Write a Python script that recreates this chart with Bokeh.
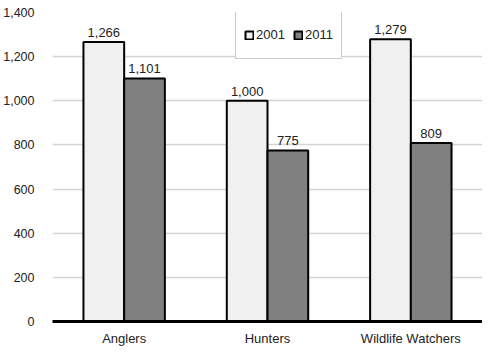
from bokeh.plotting import figure
from bokeh.models import ColumnDataSource, FactorRange, Range1d, NumeralTickFormatter, LabelSet, Legend, LegendItem, FixedTicker
from bokeh.transform import dodge
from bokeh.core.properties import value
from bokeh.embed import file_html
from bokeh.resources import INLINE

categories = ["Anglers", "Hunters", "Wildlife Watchers"]
series_names = ["2001", "2011"]
values_2001 = [1266, 1000, 1279]
values_2011 = [1101, 775, 809]
y_ticks = [0, 200, 400, 600, 800, 1000, 1200, 1400]

src = ColumnDataSource(dict(
    cat=categories,
    v2001=values_2001,
    v2011=values_2011,
    t2001=[f"{v:,}" for v in values_2001],
    t2011=[f"{v:,}" for v in values_2011],
))

FONT = "Liberation Sans"

p = figure(width=482, height=348, x_range=FactorRange(*categories, range_padding=0),
           y_range=Range1d(0, 1400), output_backend="svg", toolbar_location=None,
           min_border_left=42, min_border_right=0, min_border_top=12, min_border_bottom=20)
p.x_range.range_padding = 0
p.outline_line_color = None
p.background_fill_color = "white"

bw = 0.284
r1 = p.vbar(x=dodge("cat", -bw / 2, range=p.x_range), top="v2001", width=bw, source=src,
            fill_color="#f0f0f0", line_color="black", line_width=2)
r2 = p.vbar(x=dodge("cat", bw / 2, range=p.x_range), top="v2011", width=bw, source=src,
            fill_color="#808080", line_color="black", line_width=2)

for col, off in (("t2001", -bw / 2), ("t2011", bw / 2)):
    ycol = "v" + col[1:]
    lbl = LabelSet(x=dodge("cat", off, range=p.x_range), y=ycol, text=col, source=src,
                   text_align="center", text_baseline="bottom", y_offset=5,
                   text_font=value(FONT), text_font_size=value("13px"), text_color="#222222")
    p.add_layout(lbl)

p.xgrid.grid_line_color = None
p.ygrid.grid_line_color = "#d4d4d4"
p.ygrid.grid_line_width = 1.5
p.yaxis.ticker = FixedTicker(ticks=y_ticks)
p.yaxis.formatter = NumeralTickFormatter(format="0,0")
p.yaxis.axis_line_color = None
p.yaxis.major_tick_line_color = None
p.yaxis.minor_tick_line_color = None
p.yaxis.major_label_standoff = 12
p.yaxis.major_label_text_font = FONT
p.yaxis.major_label_text_font_size = "12.5px"
p.yaxis.major_label_text_color = "#222222"

p.xaxis.axis_line_color = "black"
p.xaxis.axis_line_width = 3
p.xaxis.major_tick_line_color = None
p.xaxis.minor_tick_line_color = None
p.xaxis.major_label_standoff = 3
p.xaxis.major_label_text_font = FONT
p.xaxis.major_label_text_font_size = "13px"
p.xaxis.major_label_text_color = "#222222"

legend = Legend(items=[LegendItem(label=series_names[0], renderers=[r1]),
                       LegendItem(label=series_names[1], renderers=[r2])],
                orientation="horizontal", location=(183, 262),
                glyph_width=10, glyph_height=10, label_height=31, label_standoff=2,
                spacing=8, padding=8, margin=0,
                label_text_font=FONT, label_text_font_size="13px", label_text_color="#222222",
                border_line_color="#999999", border_line_width=1,
                background_fill_color="white", background_fill_alpha=1)
p.add_layout(legend, "center")

open("out.html", "w").write(file_html(p, INLINE))
